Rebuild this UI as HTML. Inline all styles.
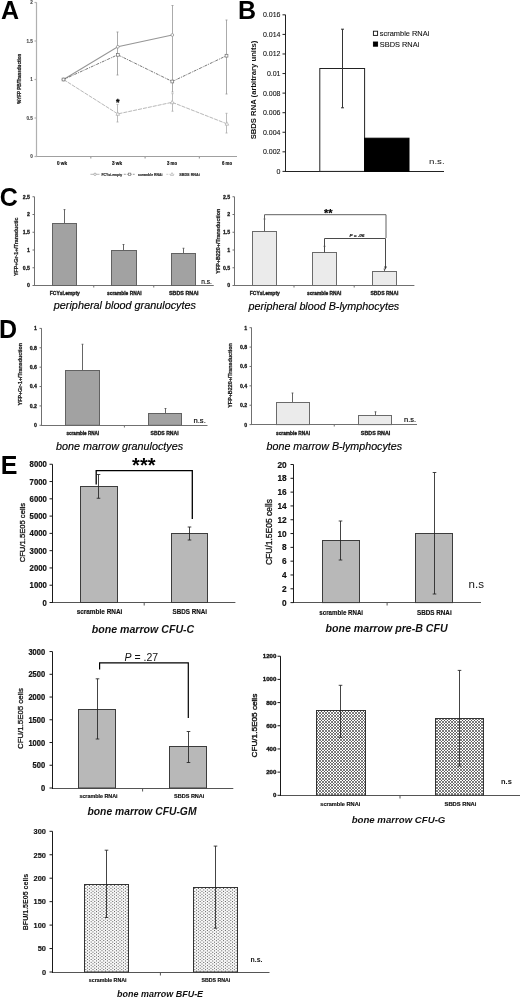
<!DOCTYPE html>
<html lang="en"><head><meta charset="utf-8"><title>Figure</title>
<style>
html,body{margin:0;padding:0;background:#fff;}
svg{display:block;font-family:"Liberation Sans", sans-serif;}
</style></head><body>
<svg width="520" height="998" viewBox="0 0 520 998">
<rect width="520" height="998" fill="#fff"/>
<defs>
<pattern id="px" width="2.6" height="2.6" patternUnits="userSpaceOnUse">
<rect width="2.6" height="2.6" fill="#fff"/>
<path d="M0,0L2.6,2.6M2.6,0L0,2.6" stroke="#333" stroke-width="0.65"/>
</pattern>
<pattern id="pd" width="3.2" height="3.2" patternUnits="userSpaceOnUse">
<rect width="3.2" height="3.2" fill="#fff"/>
<rect x="0.2" y="0.2" width="0.9" height="0.9" fill="#333"/>
<rect x="1.8" y="1.8" width="0.9" height="0.9" fill="#333"/>
</pattern>
<pattern id="pl" width="2" height="2" patternUnits="userSpaceOnUse">
<rect width="2" height="2" fill="#ececec"/>
<rect x="0" y="0" width="0.7" height="0.7" fill="#cfcfcf"/>
</pattern>
</defs>
<text x="0.9" y="19.2" font-size="25" font-weight="bold" fill="#000">A</text>
<text x="238.1" y="18.5" font-size="25" font-weight="bold" fill="#000">B</text>
<text x="-0.3" y="205.5" font-size="25" font-weight="bold" fill="#000">C</text>
<text x="-1.1" y="337.7" font-size="25" font-weight="bold" fill="#000">D</text>
<text x="0.8" y="474.2" font-size="25" font-weight="bold" fill="#000">E</text>
<line x1="36.50" y1="156.50" x2="237.00" y2="156.50" stroke="#a0a0a0" stroke-width="1.2" />
<line x1="90.80" y1="156.50" x2="90.80" y2="158.50" stroke="#a0a0a0" stroke-width="1.2" />
<line x1="145.10" y1="156.50" x2="145.10" y2="158.50" stroke="#a0a0a0" stroke-width="1.2" />
<line x1="199.40" y1="156.50" x2="199.40" y2="158.50" stroke="#a0a0a0" stroke-width="1.2" />
<line x1="36.50" y1="2.30" x2="36.50" y2="157.10" stroke="#b0b0b0" stroke-width="1.2" />
<line x1="34.50" y1="156.50" x2="36.50" y2="156.50" stroke="#b0b0b0" stroke-width="1.2" />
<line x1="34.50" y1="118.00" x2="36.50" y2="118.00" stroke="#b0b0b0" stroke-width="1.2" />
<line x1="34.50" y1="79.50" x2="36.50" y2="79.50" stroke="#b0b0b0" stroke-width="1.2" />
<line x1="34.50" y1="41.00" x2="36.50" y2="41.00" stroke="#b0b0b0" stroke-width="1.2" />
<line x1="34.50" y1="2.50" x2="36.50" y2="2.50" stroke="#b0b0b0" stroke-width="1.2" />
<text x="32.80" y="158.20" font-size="4.6" text-anchor="end" font-weight="bold" font-style="normal" fill="#444"  stroke="#444" stroke-width="0.1">0</text>
<text x="32.80" y="119.70" font-size="4.6" text-anchor="end" font-weight="bold" font-style="normal" fill="#444"  stroke="#444" stroke-width="0.1">0.5</text>
<text x="32.80" y="81.20" font-size="4.6" text-anchor="end" font-weight="bold" font-style="normal" fill="#444"  stroke="#444" stroke-width="0.1">1</text>
<text x="32.80" y="42.70" font-size="4.6" text-anchor="end" font-weight="bold" font-style="normal" fill="#444"  stroke="#444" stroke-width="0.1">1.5</text>
<text x="32.80" y="4.20" font-size="4.6" text-anchor="end" font-weight="bold" font-style="normal" fill="#444"  stroke="#444" stroke-width="0.1">2</text>
<text x="62.00" y="164.90" font-size="4.8" text-anchor="middle" font-weight="bold" font-style="normal" fill="#222"  textLength="10" lengthAdjust="spacingAndGlyphs" stroke="#222" stroke-width="0.22">0 wk</text>
<text x="117.00" y="164.90" font-size="4.8" text-anchor="middle" font-weight="bold" font-style="normal" fill="#222"  textLength="10" lengthAdjust="spacingAndGlyphs" stroke="#222" stroke-width="0.22">3 wk</text>
<text x="172.00" y="164.90" font-size="4.8" text-anchor="middle" font-weight="bold" font-style="normal" fill="#222"  textLength="10" lengthAdjust="spacingAndGlyphs" stroke="#222" stroke-width="0.22">3 mo</text>
<text x="227.00" y="164.90" font-size="4.8" text-anchor="middle" font-weight="bold" font-style="normal" fill="#222"  textLength="10" lengthAdjust="spacingAndGlyphs" stroke="#222" stroke-width="0.22">6 mo</text>
<text x="20.70" y="78.80" font-size="4.8" text-anchor="middle" font-weight="bold" font-style="normal" fill="#222" transform="rotate(-90 20.70 78.80)"  textLength="50" lengthAdjust="spacingAndGlyphs" stroke="#222" stroke-width="0.22">%YFP PB/Transduction</text>
<line x1="117.50" y1="32.00" x2="117.50" y2="75.00" stroke="#969696" stroke-width="0.8" />
<line x1="116.50" y1="32.00" x2="118.50" y2="32.00" stroke="#969696" stroke-width="0.8" />
<line x1="116.50" y1="75.00" x2="118.50" y2="75.00" stroke="#969696" stroke-width="0.8" />
<line x1="172.50" y1="5.50" x2="172.50" y2="92.00" stroke="#969696" stroke-width="0.8" />
<line x1="171.50" y1="5.50" x2="173.50" y2="5.50" stroke="#969696" stroke-width="0.8" />
<line x1="171.50" y1="92.00" x2="173.50" y2="92.00" stroke="#969696" stroke-width="0.8" />
<line x1="226.50" y1="20.00" x2="226.50" y2="94.00" stroke="#969696" stroke-width="0.8" />
<line x1="225.50" y1="20.00" x2="227.50" y2="20.00" stroke="#969696" stroke-width="0.8" />
<line x1="225.50" y1="94.00" x2="227.50" y2="94.00" stroke="#969696" stroke-width="0.8" />
<line x1="117.50" y1="104.40" x2="117.50" y2="122.00" stroke="#aaa" stroke-width="0.8" />
<line x1="116.50" y1="104.40" x2="118.50" y2="104.40" stroke="#aaa" stroke-width="0.8" />
<line x1="116.50" y1="122.00" x2="118.50" y2="122.00" stroke="#aaa" stroke-width="0.8" />
<line x1="172.50" y1="93.70" x2="172.50" y2="111.20" stroke="#aaa" stroke-width="0.8" />
<line x1="171.50" y1="93.70" x2="173.50" y2="93.70" stroke="#aaa" stroke-width="0.8" />
<line x1="171.50" y1="111.20" x2="173.50" y2="111.20" stroke="#aaa" stroke-width="0.8" />
<line x1="226.50" y1="113.30" x2="226.50" y2="133.00" stroke="#aaa" stroke-width="0.8" />
<line x1="225.50" y1="113.30" x2="227.50" y2="113.30" stroke="#aaa" stroke-width="0.8" />
<line x1="225.50" y1="133.00" x2="227.50" y2="133.00" stroke="#aaa" stroke-width="0.8" />
<polyline points="63.50,79.50 117.80,46.80 172.30,35.00" fill="none" stroke="#969696" stroke-width="1.1" />
<polyline points="63.50,79.50 117.80,54.80 172.30,81.50 226.50,55.70" fill="none" stroke="#6a6a6a" stroke-width="0.9" stroke-dasharray="3 1 1 1"/>
<polyline points="63.50,79.50 117.80,113.90 172.20,102.30 226.90,123.80" fill="none" stroke="#b8b8b8" stroke-width="1.0" stroke-dasharray="4 1"/>
<circle cx="63.5" cy="79.5" r="1.4" fill="#fff" stroke="#888" stroke-width="0.7"/>
<circle cx="117.8" cy="46.8" r="1.4" fill="#fff" stroke="#888" stroke-width="0.7"/>
<circle cx="172.3" cy="35" r="1.4" fill="#fff" stroke="#888" stroke-width="0.7"/>
<rect x="62.10" y="78.10" width="2.80" height="2.80" fill="#fff" stroke="#707070" stroke-width="0.7" />
<rect x="116.40" y="53.40" width="2.80" height="2.80" fill="#fff" stroke="#707070" stroke-width="0.7" />
<rect x="170.90" y="80.10" width="2.80" height="2.80" fill="#fff" stroke="#707070" stroke-width="0.7" />
<rect x="225.10" y="54.30" width="2.80" height="2.80" fill="#fff" stroke="#707070" stroke-width="0.7" />
<polygon points="117.8,111.9 116.0,115.30000000000001 119.6,115.30000000000001" fill="#fff" stroke="#aaa" stroke-width="0.7"/>
<polygon points="172.2,100.3 170.39999999999998,103.7 174.0,103.7" fill="#fff" stroke="#aaa" stroke-width="0.7"/>
<polygon points="226.9,121.8 225.1,125.2 228.70000000000002,125.2" fill="#fff" stroke="#aaa" stroke-width="0.7"/>
<text x="117.80" y="105.40" font-size="9" text-anchor="middle" font-weight="bold" font-style="normal" fill="#000"  stroke="#000" stroke-width="0.3">*</text>
<line x1="90.40" y1="174.30" x2="99.50" y2="174.30" stroke="#999" stroke-width="0.7" />
<circle cx="95" cy="174.3" r="1.2" fill="#fff" stroke="#888" stroke-width="0.6"/>
<text x="101.50" y="175.80" font-size="4.2" text-anchor="start" font-weight="bold" font-style="normal" fill="#333"  textLength="20.7" lengthAdjust="spacingAndGlyphs" stroke="#333" stroke-width="0.22">FCYsi.empty</text>
<line x1="123.80" y1="174.30" x2="134.70" y2="174.30" stroke="#777" stroke-width="0.7" stroke-dasharray="2 1"/>
<rect x="128.30" y="173.10" width="2.50" height="2.40" fill="#fff" stroke="#666" stroke-width="0.6" />
<text x="138.00" y="175.80" font-size="4.2" text-anchor="start" font-weight="bold" font-style="normal" fill="#333"  textLength="24.4" lengthAdjust="spacingAndGlyphs" stroke="#333" stroke-width="0.22">scramble RNAi</text>
<line x1="166.30" y1="174.30" x2="175.00" y2="174.30" stroke="#bbb" stroke-width="0.7" stroke-dasharray="2 1"/>
<polygon points="172,172.60000000000002 170.5,175.5 173.5,175.5" fill="#fff" stroke="#aaa" stroke-width="0.6"/>
<text x="179.20" y="175.80" font-size="4.2" text-anchor="start" font-weight="bold" font-style="normal" fill="#333"  textLength="20.6" lengthAdjust="spacingAndGlyphs" stroke="#333" stroke-width="0.22">SBDS RNAi</text>
<line x1="285.50" y1="171.50" x2="444.00" y2="171.50" stroke="#222" stroke-width="1" />
<line x1="285.50" y1="14.80" x2="285.50" y2="172.00" stroke="#222" stroke-width="1" />
<line x1="282.50" y1="171.40" x2="285.50" y2="171.40" stroke="#222" stroke-width="1" />
<line x1="282.50" y1="151.83" x2="285.50" y2="151.83" stroke="#222" stroke-width="1" />
<line x1="282.50" y1="132.26" x2="285.50" y2="132.26" stroke="#222" stroke-width="1" />
<line x1="282.50" y1="112.69" x2="285.50" y2="112.69" stroke="#222" stroke-width="1" />
<line x1="282.50" y1="93.12" x2="285.50" y2="93.12" stroke="#222" stroke-width="1" />
<line x1="282.50" y1="73.55" x2="285.50" y2="73.55" stroke="#222" stroke-width="1" />
<line x1="282.50" y1="53.98" x2="285.50" y2="53.98" stroke="#222" stroke-width="1" />
<line x1="282.50" y1="34.41" x2="285.50" y2="34.41" stroke="#222" stroke-width="1" />
<line x1="282.50" y1="14.84" x2="285.50" y2="14.84" stroke="#222" stroke-width="1" />
<text x="280.50" y="173.90" font-size="7" text-anchor="end" font-weight="normal" font-style="normal" fill="#111"  stroke="#111" stroke-width="0.1">0</text>
<text x="280.50" y="154.33" font-size="7" text-anchor="end" font-weight="normal" font-style="normal" fill="#111"  stroke="#111" stroke-width="0.1">0.002</text>
<text x="280.50" y="134.76" font-size="7" text-anchor="end" font-weight="normal" font-style="normal" fill="#111"  stroke="#111" stroke-width="0.1">0.004</text>
<text x="280.50" y="115.19" font-size="7" text-anchor="end" font-weight="normal" font-style="normal" fill="#111"  stroke="#111" stroke-width="0.1">0.006</text>
<text x="280.50" y="95.62" font-size="7" text-anchor="end" font-weight="normal" font-style="normal" fill="#111"  stroke="#111" stroke-width="0.1">0.008</text>
<text x="280.50" y="76.05" font-size="7" text-anchor="end" font-weight="normal" font-style="normal" fill="#111"  stroke="#111" stroke-width="0.1">0.01</text>
<text x="280.50" y="56.48" font-size="7" text-anchor="end" font-weight="normal" font-style="normal" fill="#111"  stroke="#111" stroke-width="0.1">0.012</text>
<text x="280.50" y="36.91" font-size="7" text-anchor="end" font-weight="normal" font-style="normal" fill="#111"  stroke="#111" stroke-width="0.1">0.014</text>
<text x="280.50" y="17.34" font-size="7" text-anchor="end" font-weight="normal" font-style="normal" fill="#111"  stroke="#111" stroke-width="0.1">0.016</text>
<rect x="319.80" y="68.50" width="44.80" height="102.90" fill="#fff" stroke="#222" stroke-width="1" />
<rect x="364.60" y="138.20" width="44.40" height="33.20" fill="#000" stroke="#000" stroke-width="1" />
<line x1="342.50" y1="29.20" x2="342.50" y2="107.80" stroke="#333" stroke-width="1" />
<line x1="341.00" y1="29.20" x2="344.00" y2="29.20" stroke="#333" stroke-width="1" />
<line x1="341.00" y1="107.80" x2="344.00" y2="107.80" stroke="#333" stroke-width="1" />
<rect x="373.40" y="31.20" width="4.20" height="4.20" fill="#fff" stroke="#111" stroke-width="0.9" />
<text x="379.80" y="36.20" font-size="7.6" text-anchor="start" font-weight="normal" font-style="normal" fill="#111"  textLength="49.5" lengthAdjust="spacingAndGlyphs" stroke="#111" stroke-width="0.1">scramble RNAi</text>
<rect x="373.40" y="42.00" width="4.20" height="4.20" fill="#000" stroke="#000" stroke-width="0.9" />
<text x="379.80" y="47.00" font-size="7.6" text-anchor="start" font-weight="normal" font-style="normal" fill="#111"  textLength="39.5" lengthAdjust="spacingAndGlyphs" stroke="#111" stroke-width="0.1">SBDS RNAi</text>
<text x="429.00" y="164.00" font-size="8" text-anchor="start" font-weight="normal" font-style="normal" fill="#111"  textLength="15.6" lengthAdjust="spacingAndGlyphs">n.s.</text>
<text x="255.50" y="90.00" font-size="7.5" text-anchor="middle" font-weight="bold" font-style="normal" fill="#111" transform="rotate(-90 255.50 90.00)"  textLength="98.7" lengthAdjust="spacingAndGlyphs">SBDS RNA (arbitrary units)</text>
<line x1="34.50" y1="285.50" x2="213.75" y2="285.50" stroke="#707070" stroke-width="1" />
<line x1="93.75" y1="285.50" x2="93.75" y2="287.50" stroke="#707070" stroke-width="1" />
<line x1="153.75" y1="285.50" x2="153.75" y2="287.50" stroke="#707070" stroke-width="1" />
<line x1="34.50" y1="196.75" x2="34.50" y2="286.00" stroke="#707070" stroke-width="1" />
<line x1="32.50" y1="285.50" x2="34.50" y2="285.50" stroke="#707070" stroke-width="1" />
<line x1="32.50" y1="267.75" x2="34.50" y2="267.75" stroke="#707070" stroke-width="1" />
<line x1="32.50" y1="250.00" x2="34.50" y2="250.00" stroke="#707070" stroke-width="1" />
<line x1="32.50" y1="232.25" x2="34.50" y2="232.25" stroke="#707070" stroke-width="1" />
<line x1="32.50" y1="214.50" x2="34.50" y2="214.50" stroke="#707070" stroke-width="1" />
<line x1="32.50" y1="196.75" x2="34.50" y2="196.75" stroke="#707070" stroke-width="1" />
<text x="30.00" y="287.40" font-size="5.2" text-anchor="end" font-weight="bold" font-style="normal" fill="#1a1a1a"  stroke="#1a1a1a" stroke-width="0.3">0</text>
<text x="30.00" y="269.65" font-size="5.2" text-anchor="end" font-weight="bold" font-style="normal" fill="#1a1a1a"  stroke="#1a1a1a" stroke-width="0.3">0.5</text>
<text x="30.00" y="251.90" font-size="5.2" text-anchor="end" font-weight="bold" font-style="normal" fill="#1a1a1a"  stroke="#1a1a1a" stroke-width="0.3">1</text>
<text x="30.00" y="234.15" font-size="5.2" text-anchor="end" font-weight="bold" font-style="normal" fill="#1a1a1a"  stroke="#1a1a1a" stroke-width="0.3">1.5</text>
<text x="30.00" y="216.40" font-size="5.2" text-anchor="end" font-weight="bold" font-style="normal" fill="#1a1a1a"  stroke="#1a1a1a" stroke-width="0.3">2</text>
<text x="30.00" y="198.65" font-size="5.2" text-anchor="end" font-weight="bold" font-style="normal" fill="#1a1a1a"  stroke="#1a1a1a" stroke-width="0.3">2.5</text>
<line x1="64.50" y1="209.60" x2="64.50" y2="223.20" stroke="#555" stroke-width="0.9" />
<line x1="63.60" y1="209.60" x2="65.40" y2="209.60" stroke="#555" stroke-width="0.9" />
<rect x="52.50" y="223.50" width="24.00" height="62.00" fill="#a2a2a2" stroke="#626262" stroke-width="1" />
<line x1="123.50" y1="244.50" x2="123.50" y2="250.20" stroke="#555" stroke-width="0.9" />
<line x1="122.60" y1="244.50" x2="124.40" y2="244.50" stroke="#555" stroke-width="0.9" />
<rect x="111.50" y="250.50" width="25.00" height="35.00" fill="#a2a2a2" stroke="#626262" stroke-width="1" />
<line x1="183.50" y1="248.25" x2="183.50" y2="253.25" stroke="#555" stroke-width="0.9" />
<line x1="182.60" y1="248.25" x2="184.40" y2="248.25" stroke="#555" stroke-width="0.9" />
<rect x="171.50" y="253.50" width="24.00" height="32.00" fill="#a2a2a2" stroke="#626262" stroke-width="1" />
<text x="64.80" y="294.90" font-size="4.8" text-anchor="middle" font-weight="bold" font-style="normal" fill="#1a1a1a"  textLength="30" lengthAdjust="spacingAndGlyphs" stroke="#1a1a1a" stroke-width="0.3">FCYsi.empty</text>
<text x="124.25" y="294.90" font-size="4.8" text-anchor="middle" font-weight="bold" font-style="normal" fill="#1a1a1a"  textLength="34.5" lengthAdjust="spacingAndGlyphs" stroke="#1a1a1a" stroke-width="0.3">scramble RNAi</text>
<text x="183.75" y="294.90" font-size="4.8" text-anchor="middle" font-weight="bold" font-style="normal" fill="#1a1a1a"  textLength="29.5" lengthAdjust="spacingAndGlyphs" stroke="#1a1a1a" stroke-width="0.3">SBDS RNAi</text>
<text x="124.90" y="309.20" font-size="10.6" text-anchor="middle" font-weight="normal" font-style="italic" fill="#000"  textLength="142.2" lengthAdjust="spacingAndGlyphs" stroke="#000" stroke-width="0.15">peripheral blood granulocytes</text>
<text x="18.00" y="246.80" font-size="5" text-anchor="middle" font-weight="bold" font-style="normal" fill="#222" transform="rotate(-90 18.00 246.80)"  textLength="58.5" lengthAdjust="spacingAndGlyphs" stroke="#222" stroke-width="0.22">YFP+Gr-1+/Transductic</text>
<text x="201.30" y="283.60" font-size="7.2" text-anchor="start" font-weight="normal" font-style="normal" fill="#000"  textLength="10.6" lengthAdjust="spacingAndGlyphs" stroke="#000" stroke-width="0.15">n.s.</text>
<line x1="234.50" y1="285.50" x2="414.40" y2="285.50" stroke="#707070" stroke-width="1" />
<line x1="294.00" y1="285.50" x2="294.00" y2="287.50" stroke="#707070" stroke-width="1" />
<line x1="354.20" y1="285.50" x2="354.20" y2="287.50" stroke="#707070" stroke-width="1" />
<line x1="234.50" y1="196.75" x2="234.50" y2="286.00" stroke="#707070" stroke-width="1" />
<line x1="232.50" y1="285.50" x2="234.50" y2="285.50" stroke="#707070" stroke-width="1" />
<line x1="232.50" y1="267.75" x2="234.50" y2="267.75" stroke="#707070" stroke-width="1" />
<line x1="232.50" y1="250.00" x2="234.50" y2="250.00" stroke="#707070" stroke-width="1" />
<line x1="232.50" y1="232.25" x2="234.50" y2="232.25" stroke="#707070" stroke-width="1" />
<line x1="232.50" y1="214.50" x2="234.50" y2="214.50" stroke="#707070" stroke-width="1" />
<line x1="232.50" y1="196.75" x2="234.50" y2="196.75" stroke="#707070" stroke-width="1" />
<text x="230.10" y="287.40" font-size="5.2" text-anchor="end" font-weight="bold" font-style="normal" fill="#1a1a1a"  stroke="#1a1a1a" stroke-width="0.3">0</text>
<text x="230.10" y="269.65" font-size="5.2" text-anchor="end" font-weight="bold" font-style="normal" fill="#1a1a1a"  stroke="#1a1a1a" stroke-width="0.3">0.5</text>
<text x="230.10" y="251.90" font-size="5.2" text-anchor="end" font-weight="bold" font-style="normal" fill="#1a1a1a"  stroke="#1a1a1a" stroke-width="0.3">1</text>
<text x="230.10" y="234.15" font-size="5.2" text-anchor="end" font-weight="bold" font-style="normal" fill="#1a1a1a"  stroke="#1a1a1a" stroke-width="0.3">1.5</text>
<text x="230.10" y="216.40" font-size="5.2" text-anchor="end" font-weight="bold" font-style="normal" fill="#1a1a1a"  stroke="#1a1a1a" stroke-width="0.3">2</text>
<text x="230.10" y="198.65" font-size="5.2" text-anchor="end" font-weight="bold" font-style="normal" fill="#1a1a1a"  stroke="#1a1a1a" stroke-width="0.3">2.5</text>
<rect x="252.50" y="231.50" width="24.00" height="54.00" fill="#ebebeb" stroke="#6a6a6a" stroke-width="1" />
<rect x="312.50" y="252.50" width="24.00" height="33.00" fill="#ebebeb" stroke="#6a6a6a" stroke-width="1" />
<line x1="384.50" y1="269.00" x2="384.50" y2="271.75" stroke="#555" stroke-width="0.9" />
<line x1="383.60" y1="269.00" x2="385.40" y2="269.00" stroke="#555" stroke-width="0.9" />
<rect x="372.50" y="271.50" width="24.00" height="14.00" fill="#ebebeb" stroke="#6a6a6a" stroke-width="1" />
<text x="264.80" y="294.90" font-size="4.8" text-anchor="middle" font-weight="bold" font-style="normal" fill="#1a1a1a"  textLength="30" lengthAdjust="spacingAndGlyphs" stroke="#1a1a1a" stroke-width="0.3">FCYsi.empty</text>
<text x="324.20" y="294.90" font-size="4.8" text-anchor="middle" font-weight="bold" font-style="normal" fill="#1a1a1a"  textLength="34.5" lengthAdjust="spacingAndGlyphs" stroke="#1a1a1a" stroke-width="0.3">scramble RNAi</text>
<text x="384.40" y="294.90" font-size="4.8" text-anchor="middle" font-weight="bold" font-style="normal" fill="#1a1a1a"  textLength="28" lengthAdjust="spacingAndGlyphs" stroke="#1a1a1a" stroke-width="0.3">SBDS RNAi</text>
<text x="323.90" y="309.60" font-size="10.6" text-anchor="middle" font-weight="normal" font-style="italic" fill="#000"  textLength="150.7" lengthAdjust="spacingAndGlyphs" stroke="#000" stroke-width="0.15">peripheral blood B-lymphocytes</text>
<text x="220.30" y="241.20" font-size="5" text-anchor="middle" font-weight="bold" font-style="normal" fill="#222" transform="rotate(-90 220.30 241.20)"  textLength="65" lengthAdjust="spacingAndGlyphs" stroke="#222" stroke-width="0.22">YFP+B220+/Transduction</text>
<polyline points="264.50,231.50 264.50,214.70 386.00,214.70 386.00,238.00" fill="none" stroke="#606060" stroke-width="1" />
<line x1="263.50" y1="219.00" x2="265.50" y2="219.00" stroke="#606060" stroke-width="0.8" />
<line x1="323.50" y1="246.30" x2="325.50" y2="246.30" stroke="#555" stroke-width="0.8" />
<polyline points="324.50,252.50 324.50,238.50 385.50,238.50 385.50,268.00" fill="none" stroke="#4a4a4a" stroke-width="1" />
<polygon points="384.1,266.5 386.9,266.5 385.5,269.5" fill="#333"/>
<text x="328.30" y="216.60" font-size="11" text-anchor="middle" font-weight="bold" font-style="normal" fill="#000"  stroke="#000" stroke-width="0.2">**</text>
<text x="357.00" y="237.00" font-size="4.3" text-anchor="middle" font-weight="bold" font-style="italic" fill="#222"  textLength="15" lengthAdjust="spacingAndGlyphs" stroke="#222" stroke-width="0.22">P = .06</text>
<line x1="41.50" y1="425.50" x2="207.50" y2="425.50" stroke="#707070" stroke-width="1" />
<line x1="124.40" y1="425.50" x2="124.40" y2="427.50" stroke="#707070" stroke-width="1" />
<line x1="41.50" y1="328.20" x2="41.50" y2="426.00" stroke="#707070" stroke-width="1" />
<line x1="39.50" y1="425.30" x2="41.50" y2="425.30" stroke="#707070" stroke-width="1" />
<line x1="39.50" y1="405.92" x2="41.50" y2="405.92" stroke="#707070" stroke-width="1" />
<line x1="39.50" y1="386.54" x2="41.50" y2="386.54" stroke="#707070" stroke-width="1" />
<line x1="39.50" y1="367.16" x2="41.50" y2="367.16" stroke="#707070" stroke-width="1" />
<line x1="39.50" y1="347.78" x2="41.50" y2="347.78" stroke="#707070" stroke-width="1" />
<line x1="39.50" y1="328.40" x2="41.50" y2="328.40" stroke="#707070" stroke-width="1" />
<text x="36.85" y="427.20" font-size="5.2" text-anchor="end" font-weight="bold" font-style="normal" fill="#1a1a1a"  stroke="#1a1a1a" stroke-width="0.3">0</text>
<text x="36.85" y="407.82" font-size="5.2" text-anchor="end" font-weight="bold" font-style="normal" fill="#1a1a1a"  stroke="#1a1a1a" stroke-width="0.3">0.2</text>
<text x="36.85" y="388.44" font-size="5.2" text-anchor="end" font-weight="bold" font-style="normal" fill="#1a1a1a"  stroke="#1a1a1a" stroke-width="0.3">0.4</text>
<text x="36.85" y="369.06" font-size="5.2" text-anchor="end" font-weight="bold" font-style="normal" fill="#1a1a1a"  stroke="#1a1a1a" stroke-width="0.3">0.6</text>
<text x="36.85" y="349.68" font-size="5.2" text-anchor="end" font-weight="bold" font-style="normal" fill="#1a1a1a"  stroke="#1a1a1a" stroke-width="0.3">0.8</text>
<text x="36.85" y="330.30" font-size="5.2" text-anchor="end" font-weight="bold" font-style="normal" fill="#1a1a1a"  stroke="#1a1a1a" stroke-width="0.3">1</text>
<line x1="82.50" y1="344.25" x2="82.50" y2="370.00" stroke="#555" stroke-width="0.9" />
<line x1="81.60" y1="344.25" x2="83.40" y2="344.25" stroke="#555" stroke-width="0.9" />
<rect x="65.50" y="370.50" width="34.00" height="54.80" fill="#a2a2a2" stroke="#626262" stroke-width="1" />
<line x1="165.50" y1="408.50" x2="165.50" y2="413.60" stroke="#555" stroke-width="0.9" />
<line x1="164.60" y1="408.50" x2="166.40" y2="408.50" stroke="#555" stroke-width="0.9" />
<rect x="148.50" y="413.50" width="33.00" height="11.80" fill="#a2a2a2" stroke="#626262" stroke-width="1" />
<text x="82.80" y="434.90" font-size="4.7" text-anchor="middle" font-weight="bold" font-style="normal" fill="#1a1a1a"  textLength="32.7" lengthAdjust="spacingAndGlyphs" stroke="#1a1a1a" stroke-width="0.3">scramble RNAi</text>
<text x="164.60" y="434.90" font-size="4.7" text-anchor="middle" font-weight="bold" font-style="normal" fill="#1a1a1a"  textLength="28" lengthAdjust="spacingAndGlyphs" stroke="#1a1a1a" stroke-width="0.3">SBDS RNAi</text>
<text x="119.60" y="449.60" font-size="10.6" text-anchor="middle" font-weight="normal" font-style="italic" fill="#000"  textLength="127" lengthAdjust="spacingAndGlyphs" stroke="#000" stroke-width="0.15">bone marrow granuloctyes</text>
<text x="21.60" y="374.20" font-size="5" text-anchor="middle" font-weight="bold" font-style="normal" fill="#222" transform="rotate(-90 21.60 374.20)"  textLength="62.4" lengthAdjust="spacingAndGlyphs" stroke="#222" stroke-width="0.22">YFP+Gr-1+/Transduction</text>
<text x="193.50" y="423.30" font-size="7.2" text-anchor="start" font-weight="normal" font-style="normal" fill="#000"  textLength="12.3" lengthAdjust="spacingAndGlyphs" stroke="#000" stroke-width="0.15">n.s.</text>
<line x1="251.50" y1="424.50" x2="417.00" y2="424.50" stroke="#707070" stroke-width="1" />
<line x1="334.25" y1="424.50" x2="334.25" y2="426.50" stroke="#707070" stroke-width="1" />
<line x1="251.50" y1="327.50" x2="251.50" y2="425.00" stroke="#707070" stroke-width="1" />
<line x1="249.50" y1="424.60" x2="251.50" y2="424.60" stroke="#707070" stroke-width="1" />
<line x1="249.50" y1="405.22" x2="251.50" y2="405.22" stroke="#707070" stroke-width="1" />
<line x1="249.50" y1="385.84" x2="251.50" y2="385.84" stroke="#707070" stroke-width="1" />
<line x1="249.50" y1="366.46" x2="251.50" y2="366.46" stroke="#707070" stroke-width="1" />
<line x1="249.50" y1="347.08" x2="251.50" y2="347.08" stroke="#707070" stroke-width="1" />
<line x1="249.50" y1="327.70" x2="251.50" y2="327.70" stroke="#707070" stroke-width="1" />
<text x="247.10" y="426.50" font-size="5.2" text-anchor="end" font-weight="bold" font-style="normal" fill="#1a1a1a"  stroke="#1a1a1a" stroke-width="0.3">0</text>
<text x="247.10" y="407.12" font-size="5.2" text-anchor="end" font-weight="bold" font-style="normal" fill="#1a1a1a"  stroke="#1a1a1a" stroke-width="0.3">0.2</text>
<text x="247.10" y="387.74" font-size="5.2" text-anchor="end" font-weight="bold" font-style="normal" fill="#1a1a1a"  stroke="#1a1a1a" stroke-width="0.3">0.4</text>
<text x="247.10" y="368.36" font-size="5.2" text-anchor="end" font-weight="bold" font-style="normal" fill="#1a1a1a"  stroke="#1a1a1a" stroke-width="0.3">0.6</text>
<text x="247.10" y="348.98" font-size="5.2" text-anchor="end" font-weight="bold" font-style="normal" fill="#1a1a1a"  stroke="#1a1a1a" stroke-width="0.3">0.8</text>
<text x="247.10" y="329.60" font-size="5.2" text-anchor="end" font-weight="bold" font-style="normal" fill="#1a1a1a"  stroke="#1a1a1a" stroke-width="0.3">1</text>
<line x1="292.50" y1="393.00" x2="292.50" y2="402.00" stroke="#555" stroke-width="0.9" />
<line x1="291.60" y1="393.00" x2="293.40" y2="393.00" stroke="#555" stroke-width="0.9" />
<rect x="276.50" y="402.50" width="33.00" height="22.10" fill="#ebebeb" stroke="#6a6a6a" stroke-width="1" />
<line x1="375.50" y1="411.80" x2="375.50" y2="415.30" stroke="#555" stroke-width="0.9" />
<line x1="374.60" y1="411.80" x2="376.40" y2="411.80" stroke="#555" stroke-width="0.9" />
<rect x="358.50" y="415.50" width="33.00" height="9.10" fill="#ebebeb" stroke="#6a6a6a" stroke-width="1" />
<text x="293.00" y="434.60" font-size="4.7" text-anchor="middle" font-weight="bold" font-style="normal" fill="#1a1a1a"  textLength="34" lengthAdjust="spacingAndGlyphs" stroke="#1a1a1a" stroke-width="0.3">scramble RNAi</text>
<text x="375.60" y="434.60" font-size="4.7" text-anchor="middle" font-weight="bold" font-style="normal" fill="#1a1a1a"  textLength="29.5" lengthAdjust="spacingAndGlyphs" stroke="#1a1a1a" stroke-width="0.3">SBDS RNAi</text>
<text x="334.30" y="449.80" font-size="10.6" text-anchor="middle" font-weight="normal" font-style="italic" fill="#000"  textLength="135.5" lengthAdjust="spacingAndGlyphs" stroke="#000" stroke-width="0.15">bone marrow B-lymphocytes</text>
<text x="231.60" y="375.40" font-size="5" text-anchor="middle" font-weight="bold" font-style="normal" fill="#222" transform="rotate(-90 231.60 375.40)"  textLength="64.6" lengthAdjust="spacingAndGlyphs" stroke="#222" stroke-width="0.22">YFP+B220+/Transduction</text>
<text x="404.00" y="422.20" font-size="7.2" text-anchor="start" font-weight="normal" font-style="normal" fill="#000"  textLength="12" lengthAdjust="spacingAndGlyphs" stroke="#000" stroke-width="0.15">n.s.</text>
<line x1="52.50" y1="602.50" x2="235.40" y2="602.50" stroke="#555" stroke-width="1" />
<line x1="144.20" y1="602.50" x2="144.20" y2="605.50" stroke="#555" stroke-width="1" />
<line x1="52.50" y1="464.25" x2="52.50" y2="603.00" stroke="#1a1a1a" stroke-width="1" />
<line x1="49.50" y1="602.50" x2="52.50" y2="602.50" stroke="#1a1a1a" stroke-width="1" />
<line x1="49.50" y1="585.22" x2="52.50" y2="585.22" stroke="#1a1a1a" stroke-width="1" />
<line x1="49.50" y1="567.94" x2="52.50" y2="567.94" stroke="#1a1a1a" stroke-width="1" />
<line x1="49.50" y1="550.66" x2="52.50" y2="550.66" stroke="#1a1a1a" stroke-width="1" />
<line x1="49.50" y1="533.38" x2="52.50" y2="533.38" stroke="#1a1a1a" stroke-width="1" />
<line x1="49.50" y1="516.10" x2="52.50" y2="516.10" stroke="#1a1a1a" stroke-width="1" />
<line x1="49.50" y1="498.82" x2="52.50" y2="498.82" stroke="#1a1a1a" stroke-width="1" />
<line x1="49.50" y1="481.54" x2="52.50" y2="481.54" stroke="#1a1a1a" stroke-width="1" />
<line x1="49.50" y1="464.26" x2="52.50" y2="464.26" stroke="#1a1a1a" stroke-width="1" />
<text x="46.90" y="605.52" font-size="8.4" text-anchor="end" font-weight="bold" font-style="normal" fill="#111"  textLength="4.3" lengthAdjust="spacingAndGlyphs" stroke="#111" stroke-width="0.2">0</text>
<text x="46.90" y="588.24" font-size="8.4" text-anchor="end" font-weight="bold" font-style="normal" fill="#111"  textLength="17.3" lengthAdjust="spacingAndGlyphs" stroke="#111" stroke-width="0.2">1000</text>
<text x="46.90" y="570.96" font-size="8.4" text-anchor="end" font-weight="bold" font-style="normal" fill="#111"  textLength="17.3" lengthAdjust="spacingAndGlyphs" stroke="#111" stroke-width="0.2">2000</text>
<text x="46.90" y="553.68" font-size="8.4" text-anchor="end" font-weight="bold" font-style="normal" fill="#111"  textLength="17.3" lengthAdjust="spacingAndGlyphs" stroke="#111" stroke-width="0.2">3000</text>
<text x="46.90" y="536.40" font-size="8.4" text-anchor="end" font-weight="bold" font-style="normal" fill="#111"  textLength="17.3" lengthAdjust="spacingAndGlyphs" stroke="#111" stroke-width="0.2">4000</text>
<text x="46.90" y="519.12" font-size="8.4" text-anchor="end" font-weight="bold" font-style="normal" fill="#111"  textLength="17.3" lengthAdjust="spacingAndGlyphs" stroke="#111" stroke-width="0.2">5000</text>
<text x="46.90" y="501.84" font-size="8.4" text-anchor="end" font-weight="bold" font-style="normal" fill="#111"  textLength="17.3" lengthAdjust="spacingAndGlyphs" stroke="#111" stroke-width="0.2">6000</text>
<text x="46.90" y="484.56" font-size="8.4" text-anchor="end" font-weight="bold" font-style="normal" fill="#111"  textLength="17.3" lengthAdjust="spacingAndGlyphs" stroke="#111" stroke-width="0.2">7000</text>
<text x="46.90" y="467.28" font-size="8.4" text-anchor="end" font-weight="bold" font-style="normal" fill="#111"  textLength="17.3" lengthAdjust="spacingAndGlyphs" stroke="#111" stroke-width="0.2">8000</text>
<rect x="80.50" y="486.50" width="37.00" height="116.00" fill="#b8b8b8" stroke="#3c3c3c" stroke-width="1" />
<line x1="98.50" y1="474.50" x2="98.50" y2="498.25" stroke="#222" stroke-width="0.85" />
<line x1="96.70" y1="474.50" x2="100.30" y2="474.50" stroke="#222" stroke-width="0.85" />
<line x1="96.70" y1="498.25" x2="100.30" y2="498.25" stroke="#222" stroke-width="0.85" />
<rect x="171.50" y="533.50" width="36.00" height="69.00" fill="#b8b8b8" stroke="#3c3c3c" stroke-width="1" />
<line x1="189.50" y1="527.00" x2="189.50" y2="540.00" stroke="#222" stroke-width="0.85" />
<line x1="187.70" y1="527.00" x2="191.30" y2="527.00" stroke="#222" stroke-width="0.85" />
<line x1="187.70" y1="540.00" x2="191.30" y2="540.00" stroke="#222" stroke-width="0.85" />
<text x="99.50" y="614.40" font-size="6.4" text-anchor="middle" font-weight="bold" font-style="normal" fill="#111"  textLength="45.7" lengthAdjust="spacingAndGlyphs" stroke="#111" stroke-width="0.15">scramble RNAi</text>
<text x="189.80" y="614.40" font-size="6.4" text-anchor="middle" font-weight="bold" font-style="normal" fill="#111"  textLength="34.5" lengthAdjust="spacingAndGlyphs" stroke="#111" stroke-width="0.15">SBDS RNAi</text>
<text x="143.00" y="632.60" font-size="10" text-anchor="middle" font-weight="bold" font-style="italic" fill="#111"  textLength="102.5" lengthAdjust="spacingAndGlyphs">bone marrow CFU-C</text>
<text x="24.80" y="532.60" font-size="7.8" text-anchor="middle" font-weight="normal" font-style="normal" fill="#111" transform="rotate(-90 24.80 532.60)"  textLength="59.5" lengthAdjust="spacingAndGlyphs" stroke="#111" stroke-width="0.3">CFU/1.5E05 cells</text>
<polyline points="96.20,484.50 96.20,470.60 192.30,470.60 192.30,519.00" fill="none" stroke="#000" stroke-width="1.3" />
<text x="143.80" y="472.20" font-size="20" text-anchor="middle" font-weight="bold" font-style="normal" fill="#000" >***</text>
<line x1="293.50" y1="602.50" x2="481.00" y2="602.50" stroke="#555" stroke-width="1" />
<line x1="387.10" y1="602.50" x2="387.10" y2="605.50" stroke="#555" stroke-width="1" />
<line x1="293.50" y1="464.50" x2="293.50" y2="603.00" stroke="#1a1a1a" stroke-width="1" />
<line x1="290.50" y1="602.60" x2="293.50" y2="602.60" stroke="#1a1a1a" stroke-width="1" />
<line x1="290.50" y1="588.79" x2="293.50" y2="588.79" stroke="#1a1a1a" stroke-width="1" />
<line x1="290.50" y1="574.98" x2="293.50" y2="574.98" stroke="#1a1a1a" stroke-width="1" />
<line x1="290.50" y1="561.17" x2="293.50" y2="561.17" stroke="#1a1a1a" stroke-width="1" />
<line x1="290.50" y1="547.36" x2="293.50" y2="547.36" stroke="#1a1a1a" stroke-width="1" />
<line x1="290.50" y1="533.55" x2="293.50" y2="533.55" stroke="#1a1a1a" stroke-width="1" />
<line x1="290.50" y1="519.74" x2="293.50" y2="519.74" stroke="#1a1a1a" stroke-width="1" />
<line x1="290.50" y1="505.93" x2="293.50" y2="505.93" stroke="#1a1a1a" stroke-width="1" />
<line x1="290.50" y1="492.12" x2="293.50" y2="492.12" stroke="#1a1a1a" stroke-width="1" />
<line x1="290.50" y1="478.31" x2="293.50" y2="478.31" stroke="#1a1a1a" stroke-width="1" />
<line x1="290.50" y1="464.50" x2="293.50" y2="464.50" stroke="#1a1a1a" stroke-width="1" />
<text x="286.60" y="605.70" font-size="8.6" text-anchor="end" font-weight="bold" font-style="normal" fill="#111"  textLength="4.6" lengthAdjust="spacingAndGlyphs" stroke="#111" stroke-width="0.2">0</text>
<text x="286.60" y="591.89" font-size="8.6" text-anchor="end" font-weight="bold" font-style="normal" fill="#111"  textLength="4.6" lengthAdjust="spacingAndGlyphs" stroke="#111" stroke-width="0.2">2</text>
<text x="286.60" y="578.08" font-size="8.6" text-anchor="end" font-weight="bold" font-style="normal" fill="#111"  textLength="4.6" lengthAdjust="spacingAndGlyphs" stroke="#111" stroke-width="0.2">4</text>
<text x="286.60" y="564.27" font-size="8.6" text-anchor="end" font-weight="bold" font-style="normal" fill="#111"  textLength="4.6" lengthAdjust="spacingAndGlyphs" stroke="#111" stroke-width="0.2">6</text>
<text x="286.60" y="550.46" font-size="8.6" text-anchor="end" font-weight="bold" font-style="normal" fill="#111"  textLength="4.6" lengthAdjust="spacingAndGlyphs" stroke="#111" stroke-width="0.2">8</text>
<text x="286.60" y="536.65" font-size="8.6" text-anchor="end" font-weight="bold" font-style="normal" fill="#111"  textLength="9.2" lengthAdjust="spacingAndGlyphs" stroke="#111" stroke-width="0.2">10</text>
<text x="286.60" y="522.84" font-size="8.6" text-anchor="end" font-weight="bold" font-style="normal" fill="#111"  textLength="9.2" lengthAdjust="spacingAndGlyphs" stroke="#111" stroke-width="0.2">12</text>
<text x="286.60" y="509.03" font-size="8.6" text-anchor="end" font-weight="bold" font-style="normal" fill="#111"  textLength="9.2" lengthAdjust="spacingAndGlyphs" stroke="#111" stroke-width="0.2">14</text>
<text x="286.60" y="495.22" font-size="8.6" text-anchor="end" font-weight="bold" font-style="normal" fill="#111"  textLength="9.2" lengthAdjust="spacingAndGlyphs" stroke="#111" stroke-width="0.2">16</text>
<text x="286.60" y="481.41" font-size="8.6" text-anchor="end" font-weight="bold" font-style="normal" fill="#111"  textLength="9.2" lengthAdjust="spacingAndGlyphs" stroke="#111" stroke-width="0.2">18</text>
<text x="286.60" y="467.60" font-size="8.6" text-anchor="end" font-weight="bold" font-style="normal" fill="#111"  textLength="9.2" lengthAdjust="spacingAndGlyphs" stroke="#111" stroke-width="0.2">20</text>
<rect x="322.50" y="540.50" width="37.00" height="62.10" fill="#b8b8b8" stroke="#3c3c3c" stroke-width="1" />
<line x1="340.50" y1="521.00" x2="340.50" y2="560.00" stroke="#222" stroke-width="0.85" />
<line x1="338.70" y1="521.00" x2="342.30" y2="521.00" stroke="#222" stroke-width="0.85" />
<line x1="338.70" y1="560.00" x2="342.30" y2="560.00" stroke="#222" stroke-width="0.85" />
<rect x="415.50" y="533.50" width="37.00" height="69.10" fill="#b8b8b8" stroke="#3c3c3c" stroke-width="1" />
<line x1="434.50" y1="472.50" x2="434.50" y2="594.00" stroke="#222" stroke-width="0.85" />
<line x1="432.70" y1="472.50" x2="436.30" y2="472.50" stroke="#222" stroke-width="0.85" />
<line x1="432.70" y1="594.00" x2="436.30" y2="594.00" stroke="#222" stroke-width="0.85" />
<text x="341.20" y="614.60" font-size="6.4" text-anchor="middle" font-weight="bold" font-style="normal" fill="#111"  textLength="43.7" lengthAdjust="spacingAndGlyphs" stroke="#111" stroke-width="0.15">scramble RNAi</text>
<text x="434.30" y="614.60" font-size="6.4" text-anchor="middle" font-weight="bold" font-style="normal" fill="#111"  textLength="34.7" lengthAdjust="spacingAndGlyphs" stroke="#111" stroke-width="0.15">SBDS RNAi</text>
<text x="386.60" y="632.00" font-size="10.4" text-anchor="middle" font-weight="bold" font-style="italic" fill="#111"  textLength="122.2" lengthAdjust="spacingAndGlyphs">bone marrow pre-B CFU</text>
<text x="272.20" y="532.00" font-size="8.6" text-anchor="middle" font-weight="normal" font-style="normal" fill="#111" transform="rotate(-90 272.20 532.00)"  textLength="66" lengthAdjust="spacingAndGlyphs" stroke="#111" stroke-width="0.3">CFU/1.5E05 cells</text>
<text x="468.60" y="588.20" font-size="10.5" text-anchor="start" font-weight="normal" font-style="normal" fill="#111"  textLength="15.4" lengthAdjust="spacingAndGlyphs">n.s</text>
<line x1="52.50" y1="788.50" x2="233.30" y2="788.50" stroke="#555" stroke-width="1" />
<line x1="142.60" y1="788.50" x2="142.60" y2="791.50" stroke="#555" stroke-width="1" />
<line x1="52.50" y1="651.60" x2="52.50" y2="789.00" stroke="#1a1a1a" stroke-width="1" />
<line x1="49.50" y1="788.00" x2="52.50" y2="788.00" stroke="#1a1a1a" stroke-width="1" />
<line x1="49.50" y1="765.26" x2="52.50" y2="765.26" stroke="#1a1a1a" stroke-width="1" />
<line x1="49.50" y1="742.52" x2="52.50" y2="742.52" stroke="#1a1a1a" stroke-width="1" />
<line x1="49.50" y1="719.78" x2="52.50" y2="719.78" stroke="#1a1a1a" stroke-width="1" />
<line x1="49.50" y1="697.04" x2="52.50" y2="697.04" stroke="#1a1a1a" stroke-width="1" />
<line x1="49.50" y1="674.30" x2="52.50" y2="674.30" stroke="#1a1a1a" stroke-width="1" />
<line x1="49.50" y1="651.56" x2="52.50" y2="651.56" stroke="#1a1a1a" stroke-width="1" />
<text x="45.20" y="790.99" font-size="8.3" text-anchor="end" font-weight="bold" font-style="normal" fill="#111"  textLength="4.2" lengthAdjust="spacingAndGlyphs" stroke="#111" stroke-width="0.2">0</text>
<text x="45.20" y="768.25" font-size="8.3" text-anchor="end" font-weight="bold" font-style="normal" fill="#111"  textLength="12.6" lengthAdjust="spacingAndGlyphs" stroke="#111" stroke-width="0.2">500</text>
<text x="45.20" y="745.51" font-size="8.3" text-anchor="end" font-weight="bold" font-style="normal" fill="#111"  textLength="16.8" lengthAdjust="spacingAndGlyphs" stroke="#111" stroke-width="0.2">1000</text>
<text x="45.20" y="722.77" font-size="8.3" text-anchor="end" font-weight="bold" font-style="normal" fill="#111"  textLength="16.8" lengthAdjust="spacingAndGlyphs" stroke="#111" stroke-width="0.2">1500</text>
<text x="45.20" y="700.03" font-size="8.3" text-anchor="end" font-weight="bold" font-style="normal" fill="#111"  textLength="16.8" lengthAdjust="spacingAndGlyphs" stroke="#111" stroke-width="0.2">2000</text>
<text x="45.20" y="677.29" font-size="8.3" text-anchor="end" font-weight="bold" font-style="normal" fill="#111"  textLength="16.8" lengthAdjust="spacingAndGlyphs" stroke="#111" stroke-width="0.2">2500</text>
<text x="45.20" y="654.55" font-size="8.3" text-anchor="end" font-weight="bold" font-style="normal" fill="#111"  textLength="16.8" lengthAdjust="spacingAndGlyphs" stroke="#111" stroke-width="0.2">3000</text>
<rect x="78.50" y="709.50" width="37.00" height="78.50" fill="#b8b8b8" stroke="#3c3c3c" stroke-width="1" />
<line x1="97.50" y1="678.80" x2="97.50" y2="739.00" stroke="#222" stroke-width="0.85" />
<line x1="95.70" y1="678.80" x2="99.30" y2="678.80" stroke="#222" stroke-width="0.85" />
<line x1="95.70" y1="739.00" x2="99.30" y2="739.00" stroke="#222" stroke-width="0.85" />
<rect x="169.50" y="746.50" width="37.00" height="41.50" fill="#b8b8b8" stroke="#3c3c3c" stroke-width="1" />
<line x1="188.50" y1="731.50" x2="188.50" y2="762.50" stroke="#222" stroke-width="0.85" />
<line x1="186.70" y1="731.50" x2="190.30" y2="731.50" stroke="#222" stroke-width="0.85" />
<line x1="186.70" y1="762.50" x2="190.30" y2="762.50" stroke="#222" stroke-width="0.85" />
<text x="98.50" y="798.40" font-size="5" text-anchor="middle" font-weight="bold" font-style="normal" fill="#111"  textLength="38.2" lengthAdjust="spacingAndGlyphs" stroke="#111" stroke-width="0.15">scramble RNAi</text>
<text x="189.20" y="798.40" font-size="5" text-anchor="middle" font-weight="bold" font-style="normal" fill="#111"  textLength="30.4" lengthAdjust="spacingAndGlyphs" stroke="#111" stroke-width="0.15">SBDS RNAi</text>
<text x="142.00" y="815.20" font-size="10" text-anchor="middle" font-weight="bold" font-style="italic" fill="#111"  textLength="109" lengthAdjust="spacingAndGlyphs">bone marrow CFU-GM</text>
<text x="23.40" y="718.50" font-size="7.8" text-anchor="middle" font-weight="normal" font-style="normal" fill="#111" transform="rotate(-90 23.40 718.50)"  textLength="61" lengthAdjust="spacingAndGlyphs" stroke="#111" stroke-width="0.3">CFU/1.5E05 cells</text>
<polyline points="99.60,669.60 99.60,662.90 188.30,662.90 188.30,718.00" fill="none" stroke="#000" stroke-width="1.2" />
<text x="141.30" y="661.00" font-size="10.5" text-anchor="middle" font-weight="normal" font-style="normal" fill="#111" ><tspan font-style="italic">P</tspan> = .27</text>
<line x1="280.50" y1="795.50" x2="520.00" y2="795.50" stroke="#555" stroke-width="1" />
<line x1="400.00" y1="795.50" x2="400.00" y2="798.50" stroke="#555" stroke-width="1" />
<line x1="280.50" y1="656.20" x2="280.50" y2="796.00" stroke="#1a1a1a" stroke-width="1" />
<line x1="277.50" y1="795.30" x2="280.50" y2="795.30" stroke="#1a1a1a" stroke-width="1" />
<line x1="277.50" y1="772.12" x2="280.50" y2="772.12" stroke="#1a1a1a" stroke-width="1" />
<line x1="277.50" y1="748.94" x2="280.50" y2="748.94" stroke="#1a1a1a" stroke-width="1" />
<line x1="277.50" y1="725.76" x2="280.50" y2="725.76" stroke="#1a1a1a" stroke-width="1" />
<line x1="277.50" y1="702.58" x2="280.50" y2="702.58" stroke="#1a1a1a" stroke-width="1" />
<line x1="277.50" y1="679.40" x2="280.50" y2="679.40" stroke="#1a1a1a" stroke-width="1" />
<line x1="277.50" y1="656.22" x2="280.50" y2="656.22" stroke="#1a1a1a" stroke-width="1" />
<text x="276.40" y="797.39" font-size="5.8" text-anchor="end" font-weight="bold" font-style="normal" fill="#111"  textLength="3.4" lengthAdjust="spacingAndGlyphs" stroke="#111" stroke-width="0.3">0</text>
<text x="276.40" y="774.21" font-size="5.8" text-anchor="end" font-weight="bold" font-style="normal" fill="#111"  textLength="10.2" lengthAdjust="spacingAndGlyphs" stroke="#111" stroke-width="0.3">200</text>
<text x="276.40" y="751.03" font-size="5.8" text-anchor="end" font-weight="bold" font-style="normal" fill="#111"  textLength="10.2" lengthAdjust="spacingAndGlyphs" stroke="#111" stroke-width="0.3">400</text>
<text x="276.40" y="727.85" font-size="5.8" text-anchor="end" font-weight="bold" font-style="normal" fill="#111"  textLength="10.2" lengthAdjust="spacingAndGlyphs" stroke="#111" stroke-width="0.3">600</text>
<text x="276.40" y="704.67" font-size="5.8" text-anchor="end" font-weight="bold" font-style="normal" fill="#111"  textLength="10.2" lengthAdjust="spacingAndGlyphs" stroke="#111" stroke-width="0.3">800</text>
<text x="276.40" y="681.49" font-size="5.8" text-anchor="end" font-weight="bold" font-style="normal" fill="#111"  textLength="13.6" lengthAdjust="spacingAndGlyphs" stroke="#111" stroke-width="0.3">1000</text>
<text x="276.40" y="658.31" font-size="5.8" text-anchor="end" font-weight="bold" font-style="normal" fill="#111"  textLength="13.6" lengthAdjust="spacingAndGlyphs" stroke="#111" stroke-width="0.3">1200</text>
<clipPath id="c1"><rect x="316.50" y="710.50" width="49.00" height="84.80"/></clipPath>
<rect x="316.50" y="710.50" width="49.00" height="84.80" fill="#fff" stroke="none" stroke-width="0" />
<path d="M227.50,710.50l84.80,84.80M230.50,710.50l84.80,84.80M233.50,710.50l84.80,84.80M236.50,710.50l84.80,84.80M239.50,710.50l84.80,84.80M242.50,710.50l84.80,84.80M245.50,710.50l84.80,84.80M248.50,710.50l84.80,84.80M251.50,710.50l84.80,84.80M254.50,710.50l84.80,84.80M257.50,710.50l84.80,84.80M260.50,710.50l84.80,84.80M263.50,710.50l84.80,84.80M266.50,710.50l84.80,84.80M269.50,710.50l84.80,84.80M272.50,710.50l84.80,84.80M275.50,710.50l84.80,84.80M278.50,710.50l84.80,84.80M281.50,710.50l84.80,84.80M284.50,710.50l84.80,84.80M287.50,710.50l84.80,84.80M290.50,710.50l84.80,84.80M293.50,710.50l84.80,84.80M296.50,710.50l84.80,84.80M299.50,710.50l84.80,84.80M302.50,710.50l84.80,84.80M305.50,710.50l84.80,84.80M308.50,710.50l84.80,84.80M311.50,710.50l84.80,84.80M314.50,710.50l84.80,84.80M317.50,710.50l84.80,84.80M320.50,710.50l84.80,84.80M323.50,710.50l84.80,84.80M326.50,710.50l84.80,84.80M329.50,710.50l84.80,84.80M332.50,710.50l84.80,84.80M335.50,710.50l84.80,84.80M338.50,710.50l84.80,84.80M341.50,710.50l84.80,84.80M344.50,710.50l84.80,84.80M347.50,710.50l84.80,84.80M350.50,710.50l84.80,84.80M353.50,710.50l84.80,84.80M356.50,710.50l84.80,84.80M359.50,710.50l84.80,84.80M362.50,710.50l84.80,84.80M365.50,710.50l84.80,84.80M313.50,710.50l-84.80,84.80M316.50,710.50l-84.80,84.80M319.50,710.50l-84.80,84.80M322.50,710.50l-84.80,84.80M325.50,710.50l-84.80,84.80M328.50,710.50l-84.80,84.80M331.50,710.50l-84.80,84.80M334.50,710.50l-84.80,84.80M337.50,710.50l-84.80,84.80M340.50,710.50l-84.80,84.80M343.50,710.50l-84.80,84.80M346.50,710.50l-84.80,84.80M349.50,710.50l-84.80,84.80M352.50,710.50l-84.80,84.80M355.50,710.50l-84.80,84.80M358.50,710.50l-84.80,84.80M361.50,710.50l-84.80,84.80M364.50,710.50l-84.80,84.80M367.50,710.50l-84.80,84.80M370.50,710.50l-84.80,84.80M373.50,710.50l-84.80,84.80M376.50,710.50l-84.80,84.80M379.50,710.50l-84.80,84.80M382.50,710.50l-84.80,84.80M385.50,710.50l-84.80,84.80M388.50,710.50l-84.80,84.80M391.50,710.50l-84.80,84.80M394.50,710.50l-84.80,84.80M397.50,710.50l-84.80,84.80M400.50,710.50l-84.80,84.80M403.50,710.50l-84.80,84.80M406.50,710.50l-84.80,84.80M409.50,710.50l-84.80,84.80M412.50,710.50l-84.80,84.80M415.50,710.50l-84.80,84.80M418.50,710.50l-84.80,84.80M421.50,710.50l-84.80,84.80M424.50,710.50l-84.80,84.80M427.50,710.50l-84.80,84.80M430.50,710.50l-84.80,84.80M433.50,710.50l-84.80,84.80M436.50,710.50l-84.80,84.80M439.50,710.50l-84.80,84.80M442.50,710.50l-84.80,84.80M445.50,710.50l-84.80,84.80M448.50,710.50l-84.80,84.80" stroke="#444" stroke-width="0.7" fill="none" clip-path="url(#c1)"/>
<rect x="316.50" y="710.50" width="49.00" height="84.80" fill="none" stroke="#333" stroke-width="1" />
<line x1="340.50" y1="685.30" x2="340.50" y2="737.30" stroke="#222" stroke-width="0.85" />
<line x1="338.70" y1="685.30" x2="342.30" y2="685.30" stroke="#222" stroke-width="0.85" />
<line x1="338.70" y1="737.30" x2="342.30" y2="737.30" stroke="#222" stroke-width="0.85" />
<clipPath id="c2"><rect x="435.50" y="718.50" width="48.00" height="76.80"/></clipPath>
<rect x="435.50" y="718.50" width="48.00" height="76.80" fill="#fff" stroke="none" stroke-width="0" />
<path d="M355.50,718.50l76.80,76.80M358.50,718.50l76.80,76.80M361.50,718.50l76.80,76.80M364.50,718.50l76.80,76.80M367.50,718.50l76.80,76.80M370.50,718.50l76.80,76.80M373.50,718.50l76.80,76.80M376.50,718.50l76.80,76.80M379.50,718.50l76.80,76.80M382.50,718.50l76.80,76.80M385.50,718.50l76.80,76.80M388.50,718.50l76.80,76.80M391.50,718.50l76.80,76.80M394.50,718.50l76.80,76.80M397.50,718.50l76.80,76.80M400.50,718.50l76.80,76.80M403.50,718.50l76.80,76.80M406.50,718.50l76.80,76.80M409.50,718.50l76.80,76.80M412.50,718.50l76.80,76.80M415.50,718.50l76.80,76.80M418.50,718.50l76.80,76.80M421.50,718.50l76.80,76.80M424.50,718.50l76.80,76.80M427.50,718.50l76.80,76.80M430.50,718.50l76.80,76.80M433.50,718.50l76.80,76.80M436.50,718.50l76.80,76.80M439.50,718.50l76.80,76.80M442.50,718.50l76.80,76.80M445.50,718.50l76.80,76.80M448.50,718.50l76.80,76.80M451.50,718.50l76.80,76.80M454.50,718.50l76.80,76.80M457.50,718.50l76.80,76.80M460.50,718.50l76.80,76.80M463.50,718.50l76.80,76.80M466.50,718.50l76.80,76.80M469.50,718.50l76.80,76.80M472.50,718.50l76.80,76.80M475.50,718.50l76.80,76.80M478.50,718.50l76.80,76.80M481.50,718.50l76.80,76.80M431.50,718.50l-76.80,76.80M434.50,718.50l-76.80,76.80M437.50,718.50l-76.80,76.80M440.50,718.50l-76.80,76.80M443.50,718.50l-76.80,76.80M446.50,718.50l-76.80,76.80M449.50,718.50l-76.80,76.80M452.50,718.50l-76.80,76.80M455.50,718.50l-76.80,76.80M458.50,718.50l-76.80,76.80M461.50,718.50l-76.80,76.80M464.50,718.50l-76.80,76.80M467.50,718.50l-76.80,76.80M470.50,718.50l-76.80,76.80M473.50,718.50l-76.80,76.80M476.50,718.50l-76.80,76.80M479.50,718.50l-76.80,76.80M482.50,718.50l-76.80,76.80M485.50,718.50l-76.80,76.80M488.50,718.50l-76.80,76.80M491.50,718.50l-76.80,76.80M494.50,718.50l-76.80,76.80M497.50,718.50l-76.80,76.80M500.50,718.50l-76.80,76.80M503.50,718.50l-76.80,76.80M506.50,718.50l-76.80,76.80M509.50,718.50l-76.80,76.80M512.50,718.50l-76.80,76.80M515.50,718.50l-76.80,76.80M518.50,718.50l-76.80,76.80M521.50,718.50l-76.80,76.80M524.50,718.50l-76.80,76.80M527.50,718.50l-76.80,76.80M530.50,718.50l-76.80,76.80M533.50,718.50l-76.80,76.80M536.50,718.50l-76.80,76.80M539.50,718.50l-76.80,76.80M542.50,718.50l-76.80,76.80M545.50,718.50l-76.80,76.80M548.50,718.50l-76.80,76.80M551.50,718.50l-76.80,76.80M554.50,718.50l-76.80,76.80M557.50,718.50l-76.80,76.80M560.50,718.50l-76.80,76.80" stroke="#444" stroke-width="0.7" fill="none" clip-path="url(#c2)"/>
<rect x="435.50" y="718.50" width="48.00" height="76.80" fill="none" stroke="#333" stroke-width="1" />
<line x1="459.50" y1="670.40" x2="459.50" y2="766.00" stroke="#222" stroke-width="0.85" />
<line x1="457.70" y1="670.40" x2="461.30" y2="670.40" stroke="#222" stroke-width="0.85" />
<line x1="457.70" y1="766.00" x2="461.30" y2="766.00" stroke="#222" stroke-width="0.85" />
<text x="340.30" y="805.50" font-size="5" text-anchor="middle" font-weight="bold" font-style="normal" fill="#111"  textLength="40" lengthAdjust="spacingAndGlyphs" stroke="#111" stroke-width="0.15">scramble RNAi</text>
<text x="460.50" y="805.50" font-size="5" text-anchor="middle" font-weight="bold" font-style="normal" fill="#111"  textLength="31.8" lengthAdjust="spacingAndGlyphs" stroke="#111" stroke-width="0.15">SBDS RNAi</text>
<text x="398.50" y="823.40" font-size="9.4" text-anchor="middle" font-weight="bold" font-style="italic" fill="#111"  textLength="93.7" lengthAdjust="spacingAndGlyphs">bone marrow CFU-G</text>
<text x="257.50" y="725.60" font-size="7.4" text-anchor="middle" font-weight="normal" font-style="normal" fill="#111" transform="rotate(-90 257.50 725.60)"  textLength="63.8" lengthAdjust="spacingAndGlyphs" stroke="#111" stroke-width="0.35">CFU/1.5E05 cells</text>
<text x="501.00" y="783.50" font-size="6.5" text-anchor="start" font-weight="bold" font-style="normal" fill="#111"  textLength="10.8" lengthAdjust="spacingAndGlyphs">n.s</text>
<line x1="52.50" y1="972.50" x2="269.50" y2="972.50" stroke="#555" stroke-width="1" />
<line x1="160.40" y1="972.50" x2="160.40" y2="975.50" stroke="#555" stroke-width="1" />
<line x1="52.50" y1="831.30" x2="52.50" y2="973.00" stroke="#1a1a1a" stroke-width="1" />
<line x1="49.50" y1="972.00" x2="52.50" y2="972.00" stroke="#1a1a1a" stroke-width="1" />
<line x1="49.50" y1="948.55" x2="52.50" y2="948.55" stroke="#1a1a1a" stroke-width="1" />
<line x1="49.50" y1="925.10" x2="52.50" y2="925.10" stroke="#1a1a1a" stroke-width="1" />
<line x1="49.50" y1="901.65" x2="52.50" y2="901.65" stroke="#1a1a1a" stroke-width="1" />
<line x1="49.50" y1="878.20" x2="52.50" y2="878.20" stroke="#1a1a1a" stroke-width="1" />
<line x1="49.50" y1="854.75" x2="52.50" y2="854.75" stroke="#1a1a1a" stroke-width="1" />
<line x1="49.50" y1="831.30" x2="52.50" y2="831.30" stroke="#1a1a1a" stroke-width="1" />
<text x="46.00" y="974.77" font-size="7.7" text-anchor="end" font-weight="bold" font-style="normal" fill="#111"  textLength="4.1" lengthAdjust="spacingAndGlyphs" stroke="#111" stroke-width="0.15">0</text>
<text x="46.00" y="951.32" font-size="7.7" text-anchor="end" font-weight="bold" font-style="normal" fill="#111"  textLength="8.3" lengthAdjust="spacingAndGlyphs" stroke="#111" stroke-width="0.15">50</text>
<text x="46.00" y="927.87" font-size="7.7" text-anchor="end" font-weight="bold" font-style="normal" fill="#111"  textLength="12.4" lengthAdjust="spacingAndGlyphs" stroke="#111" stroke-width="0.15">100</text>
<text x="46.00" y="904.42" font-size="7.7" text-anchor="end" font-weight="bold" font-style="normal" fill="#111"  textLength="12.4" lengthAdjust="spacingAndGlyphs" stroke="#111" stroke-width="0.15">150</text>
<text x="46.00" y="880.97" font-size="7.7" text-anchor="end" font-weight="bold" font-style="normal" fill="#111"  textLength="12.4" lengthAdjust="spacingAndGlyphs" stroke="#111" stroke-width="0.15">200</text>
<text x="46.00" y="857.52" font-size="7.7" text-anchor="end" font-weight="bold" font-style="normal" fill="#111"  textLength="12.4" lengthAdjust="spacingAndGlyphs" stroke="#111" stroke-width="0.15">250</text>
<text x="46.00" y="834.07" font-size="7.7" text-anchor="end" font-weight="bold" font-style="normal" fill="#111"  textLength="12.4" lengthAdjust="spacingAndGlyphs" stroke="#111" stroke-width="0.15">300</text>
<rect x="84.50" y="884.50" width="44.00" height="87.50" fill="#fafafa" stroke="none" stroke-width="0" />
<line x1="85.30" y1="885.50" x2="128.00" y2="885.50" stroke="#444" stroke-width="0.95" stroke-dasharray="0.95 2.65" stroke-dashoffset="0.00"/>
<line x1="85.30" y1="886.95" x2="128.00" y2="886.95" stroke="#444" stroke-width="0.95" stroke-dasharray="0.95 2.65" stroke-dashoffset="1.80"/>
<line x1="85.30" y1="888.40" x2="128.00" y2="888.40" stroke="#444" stroke-width="0.95" stroke-dasharray="0.95 2.65" stroke-dashoffset="0.00"/>
<line x1="85.30" y1="889.85" x2="128.00" y2="889.85" stroke="#444" stroke-width="0.95" stroke-dasharray="0.95 2.65" stroke-dashoffset="1.80"/>
<line x1="85.30" y1="891.30" x2="128.00" y2="891.30" stroke="#444" stroke-width="0.95" stroke-dasharray="0.95 2.65" stroke-dashoffset="0.00"/>
<line x1="85.30" y1="892.75" x2="128.00" y2="892.75" stroke="#444" stroke-width="0.95" stroke-dasharray="0.95 2.65" stroke-dashoffset="1.80"/>
<line x1="85.30" y1="894.20" x2="128.00" y2="894.20" stroke="#444" stroke-width="0.95" stroke-dasharray="0.95 2.65" stroke-dashoffset="0.00"/>
<line x1="85.30" y1="895.65" x2="128.00" y2="895.65" stroke="#444" stroke-width="0.95" stroke-dasharray="0.95 2.65" stroke-dashoffset="1.80"/>
<line x1="85.30" y1="897.10" x2="128.00" y2="897.10" stroke="#444" stroke-width="0.95" stroke-dasharray="0.95 2.65" stroke-dashoffset="0.00"/>
<line x1="85.30" y1="898.55" x2="128.00" y2="898.55" stroke="#444" stroke-width="0.95" stroke-dasharray="0.95 2.65" stroke-dashoffset="1.80"/>
<line x1="85.30" y1="900.00" x2="128.00" y2="900.00" stroke="#444" stroke-width="0.95" stroke-dasharray="0.95 2.65" stroke-dashoffset="0.00"/>
<line x1="85.30" y1="901.45" x2="128.00" y2="901.45" stroke="#444" stroke-width="0.95" stroke-dasharray="0.95 2.65" stroke-dashoffset="1.80"/>
<line x1="85.30" y1="902.90" x2="128.00" y2="902.90" stroke="#444" stroke-width="0.95" stroke-dasharray="0.95 2.65" stroke-dashoffset="0.00"/>
<line x1="85.30" y1="904.35" x2="128.00" y2="904.35" stroke="#444" stroke-width="0.95" stroke-dasharray="0.95 2.65" stroke-dashoffset="1.80"/>
<line x1="85.30" y1="905.80" x2="128.00" y2="905.80" stroke="#444" stroke-width="0.95" stroke-dasharray="0.95 2.65" stroke-dashoffset="0.00"/>
<line x1="85.30" y1="907.25" x2="128.00" y2="907.25" stroke="#444" stroke-width="0.95" stroke-dasharray="0.95 2.65" stroke-dashoffset="1.80"/>
<line x1="85.30" y1="908.70" x2="128.00" y2="908.70" stroke="#444" stroke-width="0.95" stroke-dasharray="0.95 2.65" stroke-dashoffset="0.00"/>
<line x1="85.30" y1="910.15" x2="128.00" y2="910.15" stroke="#444" stroke-width="0.95" stroke-dasharray="0.95 2.65" stroke-dashoffset="1.80"/>
<line x1="85.30" y1="911.60" x2="128.00" y2="911.60" stroke="#444" stroke-width="0.95" stroke-dasharray="0.95 2.65" stroke-dashoffset="0.00"/>
<line x1="85.30" y1="913.05" x2="128.00" y2="913.05" stroke="#444" stroke-width="0.95" stroke-dasharray="0.95 2.65" stroke-dashoffset="1.80"/>
<line x1="85.30" y1="914.50" x2="128.00" y2="914.50" stroke="#444" stroke-width="0.95" stroke-dasharray="0.95 2.65" stroke-dashoffset="0.00"/>
<line x1="85.30" y1="915.95" x2="128.00" y2="915.95" stroke="#444" stroke-width="0.95" stroke-dasharray="0.95 2.65" stroke-dashoffset="1.80"/>
<line x1="85.30" y1="917.40" x2="128.00" y2="917.40" stroke="#444" stroke-width="0.95" stroke-dasharray="0.95 2.65" stroke-dashoffset="0.00"/>
<line x1="85.30" y1="918.85" x2="128.00" y2="918.85" stroke="#444" stroke-width="0.95" stroke-dasharray="0.95 2.65" stroke-dashoffset="1.80"/>
<line x1="85.30" y1="920.30" x2="128.00" y2="920.30" stroke="#444" stroke-width="0.95" stroke-dasharray="0.95 2.65" stroke-dashoffset="0.00"/>
<line x1="85.30" y1="921.75" x2="128.00" y2="921.75" stroke="#444" stroke-width="0.95" stroke-dasharray="0.95 2.65" stroke-dashoffset="1.80"/>
<line x1="85.30" y1="923.20" x2="128.00" y2="923.20" stroke="#444" stroke-width="0.95" stroke-dasharray="0.95 2.65" stroke-dashoffset="0.00"/>
<line x1="85.30" y1="924.65" x2="128.00" y2="924.65" stroke="#444" stroke-width="0.95" stroke-dasharray="0.95 2.65" stroke-dashoffset="1.80"/>
<line x1="85.30" y1="926.10" x2="128.00" y2="926.10" stroke="#444" stroke-width="0.95" stroke-dasharray="0.95 2.65" stroke-dashoffset="0.00"/>
<line x1="85.30" y1="927.55" x2="128.00" y2="927.55" stroke="#444" stroke-width="0.95" stroke-dasharray="0.95 2.65" stroke-dashoffset="1.80"/>
<line x1="85.30" y1="929.00" x2="128.00" y2="929.00" stroke="#444" stroke-width="0.95" stroke-dasharray="0.95 2.65" stroke-dashoffset="0.00"/>
<line x1="85.30" y1="930.45" x2="128.00" y2="930.45" stroke="#444" stroke-width="0.95" stroke-dasharray="0.95 2.65" stroke-dashoffset="1.80"/>
<line x1="85.30" y1="931.90" x2="128.00" y2="931.90" stroke="#444" stroke-width="0.95" stroke-dasharray="0.95 2.65" stroke-dashoffset="0.00"/>
<line x1="85.30" y1="933.35" x2="128.00" y2="933.35" stroke="#444" stroke-width="0.95" stroke-dasharray="0.95 2.65" stroke-dashoffset="1.80"/>
<line x1="85.30" y1="934.80" x2="128.00" y2="934.80" stroke="#444" stroke-width="0.95" stroke-dasharray="0.95 2.65" stroke-dashoffset="0.00"/>
<line x1="85.30" y1="936.25" x2="128.00" y2="936.25" stroke="#444" stroke-width="0.95" stroke-dasharray="0.95 2.65" stroke-dashoffset="1.80"/>
<line x1="85.30" y1="937.70" x2="128.00" y2="937.70" stroke="#444" stroke-width="0.95" stroke-dasharray="0.95 2.65" stroke-dashoffset="0.00"/>
<line x1="85.30" y1="939.15" x2="128.00" y2="939.15" stroke="#444" stroke-width="0.95" stroke-dasharray="0.95 2.65" stroke-dashoffset="1.80"/>
<line x1="85.30" y1="940.60" x2="128.00" y2="940.60" stroke="#444" stroke-width="0.95" stroke-dasharray="0.95 2.65" stroke-dashoffset="0.00"/>
<line x1="85.30" y1="942.05" x2="128.00" y2="942.05" stroke="#444" stroke-width="0.95" stroke-dasharray="0.95 2.65" stroke-dashoffset="1.80"/>
<line x1="85.30" y1="943.50" x2="128.00" y2="943.50" stroke="#444" stroke-width="0.95" stroke-dasharray="0.95 2.65" stroke-dashoffset="0.00"/>
<line x1="85.30" y1="944.95" x2="128.00" y2="944.95" stroke="#444" stroke-width="0.95" stroke-dasharray="0.95 2.65" stroke-dashoffset="1.80"/>
<line x1="85.30" y1="946.40" x2="128.00" y2="946.40" stroke="#444" stroke-width="0.95" stroke-dasharray="0.95 2.65" stroke-dashoffset="0.00"/>
<line x1="85.30" y1="947.85" x2="128.00" y2="947.85" stroke="#444" stroke-width="0.95" stroke-dasharray="0.95 2.65" stroke-dashoffset="1.80"/>
<line x1="85.30" y1="949.30" x2="128.00" y2="949.30" stroke="#444" stroke-width="0.95" stroke-dasharray="0.95 2.65" stroke-dashoffset="0.00"/>
<line x1="85.30" y1="950.75" x2="128.00" y2="950.75" stroke="#444" stroke-width="0.95" stroke-dasharray="0.95 2.65" stroke-dashoffset="1.80"/>
<line x1="85.30" y1="952.20" x2="128.00" y2="952.20" stroke="#444" stroke-width="0.95" stroke-dasharray="0.95 2.65" stroke-dashoffset="0.00"/>
<line x1="85.30" y1="953.65" x2="128.00" y2="953.65" stroke="#444" stroke-width="0.95" stroke-dasharray="0.95 2.65" stroke-dashoffset="1.80"/>
<line x1="85.30" y1="955.10" x2="128.00" y2="955.10" stroke="#444" stroke-width="0.95" stroke-dasharray="0.95 2.65" stroke-dashoffset="0.00"/>
<line x1="85.30" y1="956.55" x2="128.00" y2="956.55" stroke="#444" stroke-width="0.95" stroke-dasharray="0.95 2.65" stroke-dashoffset="1.80"/>
<line x1="85.30" y1="958.00" x2="128.00" y2="958.00" stroke="#444" stroke-width="0.95" stroke-dasharray="0.95 2.65" stroke-dashoffset="0.00"/>
<line x1="85.30" y1="959.45" x2="128.00" y2="959.45" stroke="#444" stroke-width="0.95" stroke-dasharray="0.95 2.65" stroke-dashoffset="1.80"/>
<line x1="85.30" y1="960.90" x2="128.00" y2="960.90" stroke="#444" stroke-width="0.95" stroke-dasharray="0.95 2.65" stroke-dashoffset="0.00"/>
<line x1="85.30" y1="962.35" x2="128.00" y2="962.35" stroke="#444" stroke-width="0.95" stroke-dasharray="0.95 2.65" stroke-dashoffset="1.80"/>
<line x1="85.30" y1="963.80" x2="128.00" y2="963.80" stroke="#444" stroke-width="0.95" stroke-dasharray="0.95 2.65" stroke-dashoffset="0.00"/>
<line x1="85.30" y1="965.25" x2="128.00" y2="965.25" stroke="#444" stroke-width="0.95" stroke-dasharray="0.95 2.65" stroke-dashoffset="1.80"/>
<line x1="85.30" y1="966.70" x2="128.00" y2="966.70" stroke="#444" stroke-width="0.95" stroke-dasharray="0.95 2.65" stroke-dashoffset="0.00"/>
<line x1="85.30" y1="968.15" x2="128.00" y2="968.15" stroke="#444" stroke-width="0.95" stroke-dasharray="0.95 2.65" stroke-dashoffset="1.80"/>
<line x1="85.30" y1="969.60" x2="128.00" y2="969.60" stroke="#444" stroke-width="0.95" stroke-dasharray="0.95 2.65" stroke-dashoffset="0.00"/>
<line x1="85.30" y1="971.05" x2="128.00" y2="971.05" stroke="#444" stroke-width="0.95" stroke-dasharray="0.95 2.65" stroke-dashoffset="1.80"/>
<rect x="84.50" y="884.50" width="44.00" height="87.50" fill="none" stroke="#333" stroke-width="1" />
<line x1="106.50" y1="850.20" x2="106.50" y2="917.50" stroke="#222" stroke-width="0.85" />
<line x1="104.70" y1="850.20" x2="108.30" y2="850.20" stroke="#222" stroke-width="0.85" />
<line x1="104.70" y1="917.50" x2="108.30" y2="917.50" stroke="#222" stroke-width="0.85" />
<rect x="193.50" y="887.50" width="44.00" height="84.50" fill="#fafafa" stroke="none" stroke-width="0" />
<line x1="194.30" y1="888.50" x2="237.00" y2="888.50" stroke="#444" stroke-width="0.95" stroke-dasharray="0.95 2.65" stroke-dashoffset="0.00"/>
<line x1="194.30" y1="889.95" x2="237.00" y2="889.95" stroke="#444" stroke-width="0.95" stroke-dasharray="0.95 2.65" stroke-dashoffset="1.80"/>
<line x1="194.30" y1="891.40" x2="237.00" y2="891.40" stroke="#444" stroke-width="0.95" stroke-dasharray="0.95 2.65" stroke-dashoffset="0.00"/>
<line x1="194.30" y1="892.85" x2="237.00" y2="892.85" stroke="#444" stroke-width="0.95" stroke-dasharray="0.95 2.65" stroke-dashoffset="1.80"/>
<line x1="194.30" y1="894.30" x2="237.00" y2="894.30" stroke="#444" stroke-width="0.95" stroke-dasharray="0.95 2.65" stroke-dashoffset="0.00"/>
<line x1="194.30" y1="895.75" x2="237.00" y2="895.75" stroke="#444" stroke-width="0.95" stroke-dasharray="0.95 2.65" stroke-dashoffset="1.80"/>
<line x1="194.30" y1="897.20" x2="237.00" y2="897.20" stroke="#444" stroke-width="0.95" stroke-dasharray="0.95 2.65" stroke-dashoffset="0.00"/>
<line x1="194.30" y1="898.65" x2="237.00" y2="898.65" stroke="#444" stroke-width="0.95" stroke-dasharray="0.95 2.65" stroke-dashoffset="1.80"/>
<line x1="194.30" y1="900.10" x2="237.00" y2="900.10" stroke="#444" stroke-width="0.95" stroke-dasharray="0.95 2.65" stroke-dashoffset="0.00"/>
<line x1="194.30" y1="901.55" x2="237.00" y2="901.55" stroke="#444" stroke-width="0.95" stroke-dasharray="0.95 2.65" stroke-dashoffset="1.80"/>
<line x1="194.30" y1="903.00" x2="237.00" y2="903.00" stroke="#444" stroke-width="0.95" stroke-dasharray="0.95 2.65" stroke-dashoffset="0.00"/>
<line x1="194.30" y1="904.45" x2="237.00" y2="904.45" stroke="#444" stroke-width="0.95" stroke-dasharray="0.95 2.65" stroke-dashoffset="1.80"/>
<line x1="194.30" y1="905.90" x2="237.00" y2="905.90" stroke="#444" stroke-width="0.95" stroke-dasharray="0.95 2.65" stroke-dashoffset="0.00"/>
<line x1="194.30" y1="907.35" x2="237.00" y2="907.35" stroke="#444" stroke-width="0.95" stroke-dasharray="0.95 2.65" stroke-dashoffset="1.80"/>
<line x1="194.30" y1="908.80" x2="237.00" y2="908.80" stroke="#444" stroke-width="0.95" stroke-dasharray="0.95 2.65" stroke-dashoffset="0.00"/>
<line x1="194.30" y1="910.25" x2="237.00" y2="910.25" stroke="#444" stroke-width="0.95" stroke-dasharray="0.95 2.65" stroke-dashoffset="1.80"/>
<line x1="194.30" y1="911.70" x2="237.00" y2="911.70" stroke="#444" stroke-width="0.95" stroke-dasharray="0.95 2.65" stroke-dashoffset="0.00"/>
<line x1="194.30" y1="913.15" x2="237.00" y2="913.15" stroke="#444" stroke-width="0.95" stroke-dasharray="0.95 2.65" stroke-dashoffset="1.80"/>
<line x1="194.30" y1="914.60" x2="237.00" y2="914.60" stroke="#444" stroke-width="0.95" stroke-dasharray="0.95 2.65" stroke-dashoffset="0.00"/>
<line x1="194.30" y1="916.05" x2="237.00" y2="916.05" stroke="#444" stroke-width="0.95" stroke-dasharray="0.95 2.65" stroke-dashoffset="1.80"/>
<line x1="194.30" y1="917.50" x2="237.00" y2="917.50" stroke="#444" stroke-width="0.95" stroke-dasharray="0.95 2.65" stroke-dashoffset="0.00"/>
<line x1="194.30" y1="918.95" x2="237.00" y2="918.95" stroke="#444" stroke-width="0.95" stroke-dasharray="0.95 2.65" stroke-dashoffset="1.80"/>
<line x1="194.30" y1="920.40" x2="237.00" y2="920.40" stroke="#444" stroke-width="0.95" stroke-dasharray="0.95 2.65" stroke-dashoffset="0.00"/>
<line x1="194.30" y1="921.85" x2="237.00" y2="921.85" stroke="#444" stroke-width="0.95" stroke-dasharray="0.95 2.65" stroke-dashoffset="1.80"/>
<line x1="194.30" y1="923.30" x2="237.00" y2="923.30" stroke="#444" stroke-width="0.95" stroke-dasharray="0.95 2.65" stroke-dashoffset="0.00"/>
<line x1="194.30" y1="924.75" x2="237.00" y2="924.75" stroke="#444" stroke-width="0.95" stroke-dasharray="0.95 2.65" stroke-dashoffset="1.80"/>
<line x1="194.30" y1="926.20" x2="237.00" y2="926.20" stroke="#444" stroke-width="0.95" stroke-dasharray="0.95 2.65" stroke-dashoffset="0.00"/>
<line x1="194.30" y1="927.65" x2="237.00" y2="927.65" stroke="#444" stroke-width="0.95" stroke-dasharray="0.95 2.65" stroke-dashoffset="1.80"/>
<line x1="194.30" y1="929.10" x2="237.00" y2="929.10" stroke="#444" stroke-width="0.95" stroke-dasharray="0.95 2.65" stroke-dashoffset="0.00"/>
<line x1="194.30" y1="930.55" x2="237.00" y2="930.55" stroke="#444" stroke-width="0.95" stroke-dasharray="0.95 2.65" stroke-dashoffset="1.80"/>
<line x1="194.30" y1="932.00" x2="237.00" y2="932.00" stroke="#444" stroke-width="0.95" stroke-dasharray="0.95 2.65" stroke-dashoffset="0.00"/>
<line x1="194.30" y1="933.45" x2="237.00" y2="933.45" stroke="#444" stroke-width="0.95" stroke-dasharray="0.95 2.65" stroke-dashoffset="1.80"/>
<line x1="194.30" y1="934.90" x2="237.00" y2="934.90" stroke="#444" stroke-width="0.95" stroke-dasharray="0.95 2.65" stroke-dashoffset="0.00"/>
<line x1="194.30" y1="936.35" x2="237.00" y2="936.35" stroke="#444" stroke-width="0.95" stroke-dasharray="0.95 2.65" stroke-dashoffset="1.80"/>
<line x1="194.30" y1="937.80" x2="237.00" y2="937.80" stroke="#444" stroke-width="0.95" stroke-dasharray="0.95 2.65" stroke-dashoffset="0.00"/>
<line x1="194.30" y1="939.25" x2="237.00" y2="939.25" stroke="#444" stroke-width="0.95" stroke-dasharray="0.95 2.65" stroke-dashoffset="1.80"/>
<line x1="194.30" y1="940.70" x2="237.00" y2="940.70" stroke="#444" stroke-width="0.95" stroke-dasharray="0.95 2.65" stroke-dashoffset="0.00"/>
<line x1="194.30" y1="942.15" x2="237.00" y2="942.15" stroke="#444" stroke-width="0.95" stroke-dasharray="0.95 2.65" stroke-dashoffset="1.80"/>
<line x1="194.30" y1="943.60" x2="237.00" y2="943.60" stroke="#444" stroke-width="0.95" stroke-dasharray="0.95 2.65" stroke-dashoffset="0.00"/>
<line x1="194.30" y1="945.05" x2="237.00" y2="945.05" stroke="#444" stroke-width="0.95" stroke-dasharray="0.95 2.65" stroke-dashoffset="1.80"/>
<line x1="194.30" y1="946.50" x2="237.00" y2="946.50" stroke="#444" stroke-width="0.95" stroke-dasharray="0.95 2.65" stroke-dashoffset="0.00"/>
<line x1="194.30" y1="947.95" x2="237.00" y2="947.95" stroke="#444" stroke-width="0.95" stroke-dasharray="0.95 2.65" stroke-dashoffset="1.80"/>
<line x1="194.30" y1="949.40" x2="237.00" y2="949.40" stroke="#444" stroke-width="0.95" stroke-dasharray="0.95 2.65" stroke-dashoffset="0.00"/>
<line x1="194.30" y1="950.85" x2="237.00" y2="950.85" stroke="#444" stroke-width="0.95" stroke-dasharray="0.95 2.65" stroke-dashoffset="1.80"/>
<line x1="194.30" y1="952.30" x2="237.00" y2="952.30" stroke="#444" stroke-width="0.95" stroke-dasharray="0.95 2.65" stroke-dashoffset="0.00"/>
<line x1="194.30" y1="953.75" x2="237.00" y2="953.75" stroke="#444" stroke-width="0.95" stroke-dasharray="0.95 2.65" stroke-dashoffset="1.80"/>
<line x1="194.30" y1="955.20" x2="237.00" y2="955.20" stroke="#444" stroke-width="0.95" stroke-dasharray="0.95 2.65" stroke-dashoffset="0.00"/>
<line x1="194.30" y1="956.65" x2="237.00" y2="956.65" stroke="#444" stroke-width="0.95" stroke-dasharray="0.95 2.65" stroke-dashoffset="1.80"/>
<line x1="194.30" y1="958.10" x2="237.00" y2="958.10" stroke="#444" stroke-width="0.95" stroke-dasharray="0.95 2.65" stroke-dashoffset="0.00"/>
<line x1="194.30" y1="959.55" x2="237.00" y2="959.55" stroke="#444" stroke-width="0.95" stroke-dasharray="0.95 2.65" stroke-dashoffset="1.80"/>
<line x1="194.30" y1="961.00" x2="237.00" y2="961.00" stroke="#444" stroke-width="0.95" stroke-dasharray="0.95 2.65" stroke-dashoffset="0.00"/>
<line x1="194.30" y1="962.45" x2="237.00" y2="962.45" stroke="#444" stroke-width="0.95" stroke-dasharray="0.95 2.65" stroke-dashoffset="1.80"/>
<line x1="194.30" y1="963.90" x2="237.00" y2="963.90" stroke="#444" stroke-width="0.95" stroke-dasharray="0.95 2.65" stroke-dashoffset="0.00"/>
<line x1="194.30" y1="965.35" x2="237.00" y2="965.35" stroke="#444" stroke-width="0.95" stroke-dasharray="0.95 2.65" stroke-dashoffset="1.80"/>
<line x1="194.30" y1="966.80" x2="237.00" y2="966.80" stroke="#444" stroke-width="0.95" stroke-dasharray="0.95 2.65" stroke-dashoffset="0.00"/>
<line x1="194.30" y1="968.25" x2="237.00" y2="968.25" stroke="#444" stroke-width="0.95" stroke-dasharray="0.95 2.65" stroke-dashoffset="1.80"/>
<line x1="194.30" y1="969.70" x2="237.00" y2="969.70" stroke="#444" stroke-width="0.95" stroke-dasharray="0.95 2.65" stroke-dashoffset="0.00"/>
<line x1="194.30" y1="971.15" x2="237.00" y2="971.15" stroke="#444" stroke-width="0.95" stroke-dasharray="0.95 2.65" stroke-dashoffset="1.80"/>
<rect x="193.50" y="887.50" width="44.00" height="84.50" fill="none" stroke="#333" stroke-width="1" />
<line x1="215.50" y1="846.10" x2="215.50" y2="928.20" stroke="#222" stroke-width="0.85" />
<line x1="213.70" y1="846.10" x2="217.30" y2="846.10" stroke="#222" stroke-width="0.85" />
<line x1="213.70" y1="928.20" x2="217.30" y2="928.20" stroke="#222" stroke-width="0.85" />
<text x="107.70" y="982.20" font-size="4.8" text-anchor="middle" font-weight="bold" font-style="normal" fill="#111"  textLength="37.7" lengthAdjust="spacingAndGlyphs" stroke="#111" stroke-width="0.15">scramble RNAi</text>
<text x="215.80" y="982.20" font-size="4.8" text-anchor="middle" font-weight="bold" font-style="normal" fill="#111"  textLength="28.8" lengthAdjust="spacingAndGlyphs" stroke="#111" stroke-width="0.15">SBDS RNAi</text>
<text x="160.10" y="997.40" font-size="8.6" text-anchor="middle" font-weight="bold" font-style="italic" fill="#111"  textLength="86" lengthAdjust="spacingAndGlyphs">bone marrow BFU-E</text>
<text x="28.20" y="902.00" font-size="7.6" text-anchor="middle" font-weight="bold" font-style="normal" fill="#111" transform="rotate(-90 28.20 902.00)"  textLength="56.5" lengthAdjust="spacingAndGlyphs" stroke="#111" stroke-width="0.1">BFU/1.5E05 cells</text>
<text x="250.60" y="961.50" font-size="6.5" text-anchor="start" font-weight="bold" font-style="normal" fill="#111"  textLength="11.9" lengthAdjust="spacingAndGlyphs">n.s.</text>
</svg>
</body></html>
